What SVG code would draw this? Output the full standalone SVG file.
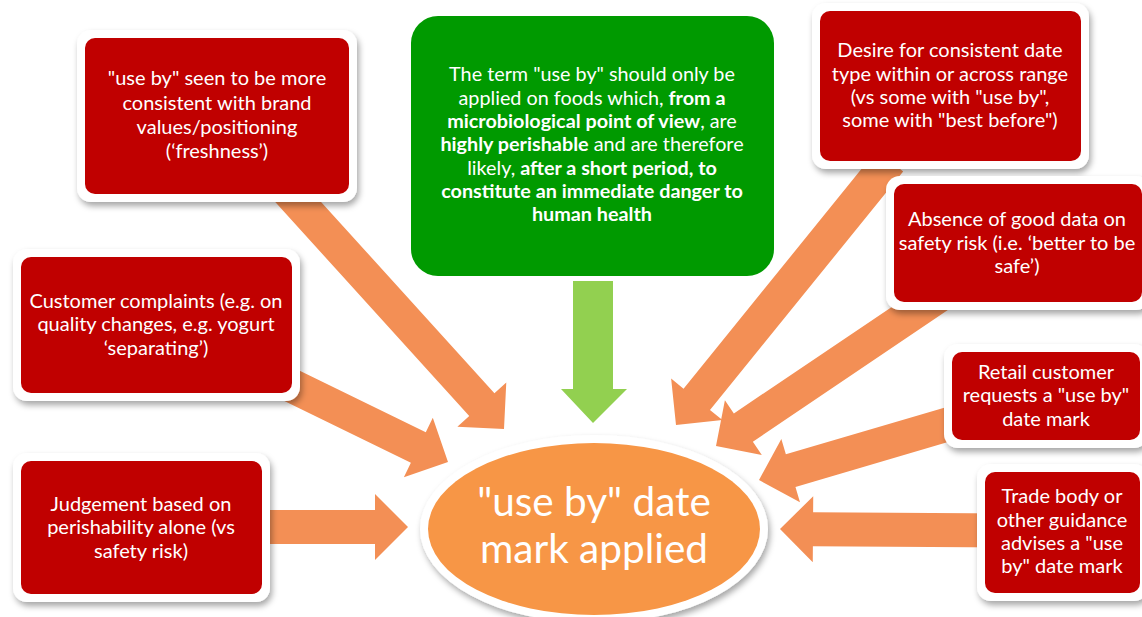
<svg xmlns="http://www.w3.org/2000/svg" width="1142" height="617" viewBox="0 0 1142 617">
<defs>
<filter id="sh" x="-10%" y="-10%" width="125%" height="130%">
<feDropShadow dx="2" dy="4" stdDeviation="3" flood-color="#000" flood-opacity="0.35"/>
</filter>
<style>
.arr{fill:#F38F55}
.garr{fill:#92D050}
.outer{fill:#fff;filter:url(#sh)}
.red{fill:#C00000}
.t{font-family:Lato,"Liberation Sans",sans-serif;font-size:20px;fill:#fff;text-anchor:middle}
.g{font-family:Lato,"Liberation Sans",sans-serif;font-size:19.8px;fill:#fff;text-anchor:middle}
.b{font-weight:bold}
.big{font-family:Lato,"Liberation Sans",sans-serif;font-size:40.5px;fill:#fff;text-anchor:middle}
</style>
</defs>
<rect width="1142" height="617" fill="#fff"/>
<g id="connectors">
<path class="arr" transform="translate(504,429) rotate(47.8)" d="M-336,-17 H-33 V-33 L0,0 L-33,33 V17 H-336 Z"/>
<path class="arr" transform="translate(676,425) rotate(129)" d="M-340,-17 H-33 V-33 L0,0 L-33,33 V17 H-340 Z"/>
<path class="arr" transform="translate(716,446) rotate(146)" d="M-270,-17 H-33 V-33 L0,0 L-33,33 V17 H-270 Z"/>
<path class="arr" transform="translate(759,480) rotate(163.6)" d="M-230,-17 H-33 V-33 L0,0 L-33,33 V17 H-230 Z"/>
<path class="arr" transform="translate(780,529) rotate(180.4)" d="M-230,-17 H-33 V-33 L0,0 L-33,33 V17 H-230 Z"/>
<path class="arr" transform="translate(448,462) rotate(26)" d="M-200,-17 H-33 V-33 L0,0 L-33,33 V17 H-200 Z"/>
<path class="arr" transform="translate(408,527)" d="M-160,-17 H-33 V-33 L0,0 L-33,33 V17 H-160 Z"/>
<path class="garr" d="M573,281 H613 V389 H627 L593,423 L561,389 H573 Z"/>
</g>
<g id="n-brand">
<rect class="outer" x="77" y="30" width="280" height="172" rx="14"/>
<rect class="red" x="85" y="38" width="264" height="156" rx="10"/>
<text class="t"><tspan x="217" y="85">"use by" seen to be more</tspan><tspan x="217" y="109.5">consistent with brand</tspan><tspan x="217" y="134">values/positioning</tspan><tspan x="217" y="158">(‘freshness’)</tspan></text>
</g>
<g id="n-term">
<rect x="411" y="16" width="363" height="260" rx="27" fill="#009A00"/>
<text class="g"><tspan x="592" y="81">The term "use by" should only be</tspan><tspan x="592" y="104.5">applied on foods which, <tspan class="b">from a</tspan></tspan><tspan x="592" y="128"><tspan class="b">microbiological point of view</tspan>, are</tspan><tspan x="592" y="151"><tspan class="b">highly perishable</tspan> and are therefore</tspan><tspan x="592" y="174.5">likely, <tspan class="b">after a short period, to</tspan></tspan><tspan x="592" y="198"><tspan class="b">constitute an immediate danger to</tspan></tspan><tspan x="592" y="221"><tspan class="b">human health</tspan></tspan></text>
</g>
<g id="n-desire">
<rect class="outer" x="812" y="3" width="277" height="166" rx="14"/>
<rect class="red" x="820" y="11" width="261" height="150" rx="10"/>
<text class="t"><tspan x="950" y="57">Desire for consistent date</tspan><tspan x="950" y="81">type within or across range</tspan><tspan x="950" y="104">(vs some with "use by",</tspan><tspan x="950" y="127">some with "best before")</tspan></text>
</g>
<g id="n-absence">
<rect class="outer" x="886" y="176" width="264" height="134" rx="14"/>
<rect class="red" x="894" y="184" width="248" height="118" rx="10"/>
<text class="t"><tspan x="1017" y="226">Absence of good data on</tspan><tspan x="1017" y="250">safety risk (i.e. ‘better to be</tspan><tspan x="1017" y="273">safe’)</tspan></text>
</g>
<g id="n-complaints">
<rect class="outer" x="13" y="249" width="287" height="152" rx="14"/>
<rect class="red" x="21" y="257" width="271" height="136" rx="10"/>
<text class="t"><tspan x="156" y="308">Customer complaints (e.g. on</tspan><tspan x="156" y="331">quality changes, e.g. yogurt</tspan><tspan x="156" y="355">‘separating’)</tspan></text>
</g>
<g id="n-judgement">
<rect class="outer" x="13" y="453" width="257" height="149" rx="14"/>
<rect class="red" x="21" y="461" width="241" height="133" rx="10"/>
<text class="t"><tspan x="141" y="511">Judgement based on</tspan><tspan x="141" y="534">perishability alone (vs</tspan><tspan x="141" y="558">safety risk)</tspan></text>
</g>
<g id="n-retail">
<rect class="outer" x="944" y="344" width="204" height="104" rx="14"/>
<rect class="red" x="952" y="352" width="188" height="88" rx="10"/>
<text class="t"><tspan x="1046" y="379">Retail customer</tspan><tspan x="1046" y="402">requests a "use by"</tspan><tspan x="1046" y="426">date mark</tspan></text>
</g>
<g id="n-trade">
<rect class="outer" x="977" y="464" width="171" height="137" rx="14"/>
<rect class="red" x="985" y="472" width="155" height="121" rx="10"/>
<text class="t"><tspan x="1062" y="503">Trade body or</tspan><tspan x="1062" y="527">other guidance</tspan><tspan x="1062" y="550">advises a "use</tspan><tspan x="1062" y="573">by" date mark</tspan></text>
</g>
<g id="n-center">
<ellipse class="outer" cx="594" cy="529" rx="174" ry="94"/>
<ellipse cx="594" cy="529" rx="166" ry="86" fill="#F79646"/>
<text class="big"><tspan x="594" y="516">"use by" date</tspan><tspan x="594" y="563">mark applied</tspan></text>
</g>
</svg>
